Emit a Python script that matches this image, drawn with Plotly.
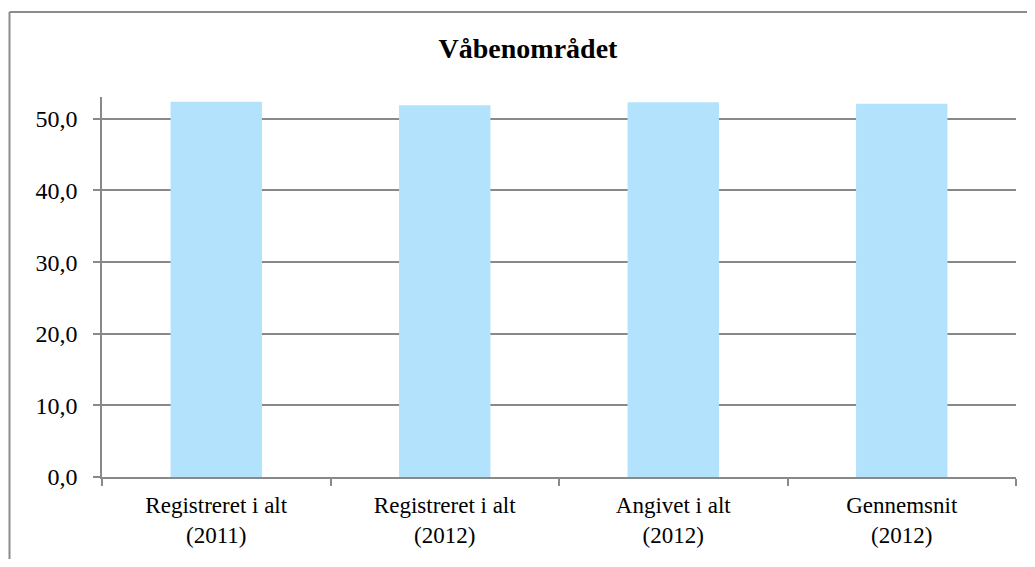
import plotly.graph_objects as go

# data
categories = ["Registreret i alt<br>(2011)", "Registreret i alt<br>(2012)",
              "Angivet i alt<br>(2012)", "Gennemsnit<br>(2012)"]
values = [52.4, 51.9, 52.3, 52.1]
y_ticks = [0, 10, 20, 30, 40, 50]

SERIF = "Liberation Serif, Times New Roman, serif"
GRID = "#898989"

# figure fits inside the window with the 8px body margin on each side
FW, FH = 1019, 551
# plot area in figure pixels
L, R, T, B = 94, 1008, 89, 471
W, H = R - L, B - T

fig = go.Figure()
fig.add_trace(go.Bar(
    x=categories, y=values,
    marker=dict(color="#b2e2fc", line=dict(width=0)),
    width=0.4, hoverinfo="x+y"
))

# chart-area frame: only the top and left edges are inside the window
frame_x0, frame_y0 = (1.5 - L) / W, (B - 3.5) / H
frame = dict(type="line", xref="paper", yref="paper",
             line=dict(color="#8c8c8c", width=2), layer="below")

fig.update_layout(
    width=FW, height=FH,
    paper_bgcolor="white", plot_bgcolor="white",
    separators=",.",
    showlegend=False,
    margin=dict(l=L, r=FW - R, t=T, b=FH - B, pad=0),
    font=dict(family=SERIF, color="black"),
    title=dict(text="<b>Våbenområdet</b>", x=520 / FW, xanchor="center",
               y=1 - 40 / FH, yanchor="middle",
               font=dict(family=SERIF, size=28, color="black")),
    xaxis=dict(
        type="category", tickson="boundaries",
        ticks="outside", ticklen=7, tickcolor=GRID, tickwidth=1.5,
        showline=True, linecolor=GRID, linewidth=1.5,
        showgrid=False, tickfont=dict(size=23), ticklabelstandoff=7,
        fixedrange=True
    ),
    yaxis=dict(
        range=[0, 53.05], tickvals=y_ticks, tickformat=".1f",
        ticks="outside", ticklen=7, tickcolor=GRID, tickwidth=1.5,
        showline=True, linecolor=GRID, linewidth=1.5,
        showgrid=True, gridcolor=GRID, gridwidth=1.5,
        zeroline=False, tickfont=dict(size=24), ticklabelstandoff=11,
        fixedrange=True
    ),
    shapes=[
        dict(frame, x0=frame_x0, x1=(FW + 20 - L) / W, y0=frame_y0, y1=frame_y0),
        dict(frame, x0=frame_x0, x1=frame_x0, y0=frame_y0, y1=(B - FH - 20) / H),
    ]
)

fig.write_html("out.html")
